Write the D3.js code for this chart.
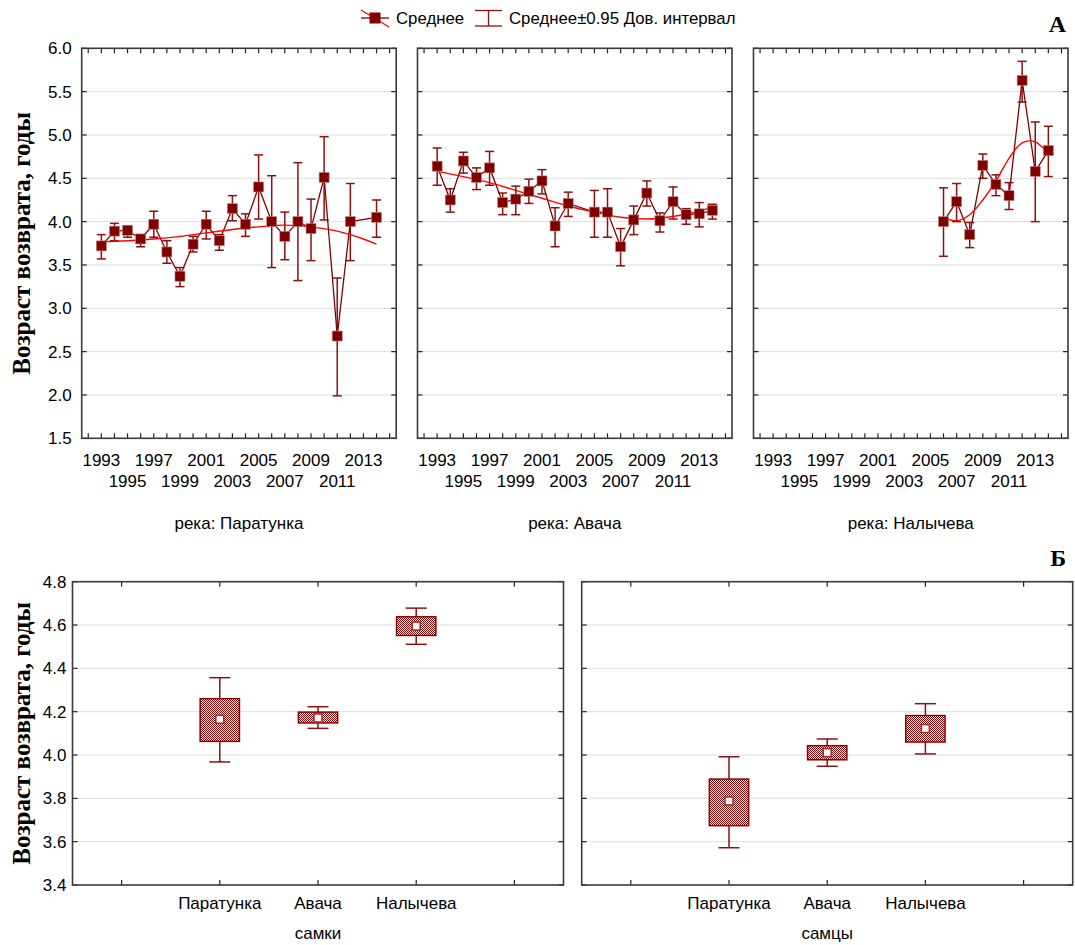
<!DOCTYPE html>
<html>
<head>
<meta charset="utf-8">
<script src="https://cdn.jsdelivr.net/npm/d3@7"></script>
<style>
  body { margin: 0; background: #fff; }
  svg { display: block; }
  text { font-family: "Liberation Sans", Arial, sans-serif; fill: #000; }
</style>
</head>
<body>
<svg id="chart" width="1075" height="945"></svg>
<script>
// ---- Panel A: mean return age by year, per river ----
const paratunkaYears = [1993,1994,1995,1996,1997,1998,1999,2000,2001,2002,2003,2004,2005,2006,2007,2008,2009,2010,2011,2012,2014];
const paratunkaMean  = [3.72,3.89,3.90,3.80,3.97,3.65,3.37,3.74,3.97,3.78,4.15,3.97,4.40,4.00,3.83,4.00,3.92,4.51,2.68,4.00,4.05];
const paratunkaLow   = [3.57,3.78,3.82,3.71,3.82,3.52,3.25,3.65,3.80,3.67,4.01,3.83,4.03,3.47,3.56,3.32,3.55,4.02,1.99,3.55,3.82];
const paratunkaHigh  = [3.85,3.98,3.95,3.85,4.12,3.78,3.47,3.83,4.12,3.85,4.30,4.09,4.77,4.53,4.11,4.68,4.26,4.98,3.35,4.44,4.25];
const paratunkaFitYears = [1993,1995,1997,1999,2001,2003,2005,2007,2009,2011,2013,2014];
const paratunkaFit      = [3.77,3.78,3.80,3.83,3.87,3.91,3.94,3.96,3.94,3.89,3.80,3.74];

const avachaYears = [1993,1994,1995,1996,1997,1998,1999,2000,2001,2002,2003,2005,2006,2007,2008,2009,2010,2011,2012,2013,2014];
const avachaMean  = [4.64,4.25,4.70,4.51,4.62,4.22,4.26,4.35,4.47,3.95,4.21,4.11,4.11,3.71,4.02,4.33,4.01,4.23,4.08,4.09,4.13];
const avachaLow   = [4.42,4.11,4.56,4.37,4.42,4.08,4.08,4.21,4.32,3.71,4.06,3.82,3.82,3.49,3.85,4.18,3.88,4.03,3.97,3.94,4.03];
const avachaHigh  = [4.85,4.38,4.80,4.62,4.81,4.33,4.41,4.49,4.60,4.16,4.34,4.36,4.38,3.92,4.18,4.47,4.10,4.40,4.15,4.22,4.20];
const avachaFitYears = [1993,1995,1997,1999,2001,2003,2005,2007,2009,2011,2013,2014];
const avachaFit      = [4.58,4.52,4.45,4.36,4.27,4.18,4.11,4.05,4.03,4.06,4.12,4.17];

const nalychevaYears = [2006,2007,2008,2009,2010,2011,2012,2013,2014];
const nalychevaMean  = [4.00,4.23,3.85,4.65,4.43,4.30,5.63,4.58,4.82];
const nalychevaLow   = [3.60,4.00,3.70,4.50,4.30,4.14,5.38,4.00,4.52];
const nalychevaHigh  = [4.39,4.44,3.99,4.78,4.54,4.45,5.85,5.15,5.10];
const nalychevaFitYears = [2006,2007,2008,2009,2010,2011,2012,2013,2014];
const nalychevaFit      = [4.05,4.01,4.08,4.25,4.47,4.73,4.91,4.92,4.78];

const riverNames = ["река: Паратунка", "река: Авача", "река: Налычева"];
const yearTicks = d3.range(1992, 2016);
const yearLabelsTop = [1993,1997,2001,2005,2009,2013];
const yearLabelsBottom = [1995,1999,2003,2007,2011];
const ageTicksA = [1.5,2.0,2.5,3.0,3.5,4.0,4.5,5.0,5.5,6.0];

// ---- Panel Б: mean ± SE (box) and ±1.96 SE (whiskers) by sex ----
const rivers = ["Паратунка", "Авача", "Налычева"];
const sexNames = ["самки", "самцы"];
const femaleMean = [4.165, 4.171, 4.595];
const femaleBoxLow = [4.063, 4.148, 4.552];
const femaleBoxHigh = [4.260, 4.198, 4.638];
const femaleCiLow = [3.968, 4.123, 4.511];
const femaleCiHigh = [4.357, 4.223, 4.678];
const maleMean = [3.788, 4.011, 4.122];
const maleBoxLow = [3.674, 3.978, 4.060];
const maleBoxHigh = [3.889, 4.043, 4.182];
const maleCiLow = [3.572, 3.948, 4.005];
const maleCiHigh = [3.992, 4.074, 4.237];
const ageTicksB = [3.4,3.6,3.8,4.0,4.2,4.4,4.6,4.8];

const yTitle = "Возраст возврата, годы";
const legendMean = "Среднее";
const legendCi = "Среднее±0.95 Дов. интервал";

// ---- styling ----
const DARK = "#800000";
const BAR = "#8b1010";
const FIT = "#ff0000";
const FRAME = "#3a3a3a";
const GRID = "#bdbdbd";
const TICK_FONT = "17px";

const svg = d3.select("#chart");

const defs = svg.append("defs");
const pat = defs.append("pattern")
  .attr("id", "dots").attr("width", 2).attr("height", 2)
  .attr("patternUnits", "userSpaceOnUse");
pat.append("rect").attr("width", 2).attr("height", 2).attr("fill", "#fff");
pat.append("rect").attr("x", 0).attr("y", 0).attr("width", 1).attr("height", 1).attr("fill", "#8b0000");
pat.append("rect").attr("x", 1).attr("y", 1).attr("width", 1).attr("height", 1).attr("fill", "#8b0000");

// frame with inward ticks on all sides and dotted grid
function drawFrame(g, x0, x1, y, yTicks, xTickPositions) {
  const yTop = y.range()[1], yBot = y.range()[0];
  g.append("g").selectAll("line").data(yTicks.slice(1, -1)).join("line")
    .attr("x1", x0).attr("x2", x1)
    .attr("y1", d => y(d)).attr("y2", d => y(d))
    .attr("stroke", GRID).attr("stroke-width", 1).attr("stroke-dasharray", "1,1");
  const t = g.append("g").attr("stroke", "#222").attr("stroke-width", 1.2);
  yTicks.forEach(d => {
    t.append("line").attr("x1", x0).attr("x2", x0 + 5).attr("y1", y(d)).attr("y2", y(d));
    t.append("line").attr("x1", x1 - 5).attr("x2", x1).attr("y1", y(d)).attr("y2", y(d));
  });
  xTickPositions.forEach(px => {
    t.append("line").attr("x1", px).attr("x2", px).attr("y1", yTop).attr("y2", yTop + 5);
    t.append("line").attr("x1", px).attr("x2", px).attr("y1", yBot).attr("y2", yBot - 5);
  });
  g.append("rect").attr("x", x0).attr("y", yTop).attr("width", x1 - x0).attr("height", yBot - yTop)
    .attr("fill", "none").attr("stroke", FRAME).attr("stroke-width", 1.6);
}

// ---------- Panel A ----------
const yA = d3.scaleLinear().domain([1.5, 6.0]).range([438.3, 48.3]);
const panelsA = [
  { x0: 81.7, years: paratunkaYears, mean: paratunkaMean, low: paratunkaLow, high: paratunkaHigh, fy: paratunkaFitYears, fit: paratunkaFit },
  { x0: 417.5, years: avachaYears, mean: avachaMean, low: avachaLow, high: avachaHigh, fy: avachaFitYears, fit: avachaFit },
  { x0: 753.5, years: nalychevaYears, mean: nalychevaMean, low: nalychevaLow, high: nalychevaHigh, fy: nalychevaFitYears, fit: nalychevaFit }
];
const widthA = 314.5;

panelsA.forEach((p, i) => {
  const x = d3.scaleLinear().domain([1991.5, 2015.5]).range([p.x0, p.x0 + widthA]);
  const g = svg.append("g");
  drawFrame(g, p.x0, p.x0 + widthA, yA, ageTicksA, yearTicks.map(x));

  // y tick labels on the first panel only
  if (i === 0) {
    g.append("g").selectAll("text").data(ageTicksA).join("text")
      .attr("x", p.x0 - 10).attr("y", d => yA(d)).attr("dy", "0.36em")
      .attr("text-anchor", "end").style("font-size", TICK_FONT)
      .text(d => d.toFixed(1));
  }
  // staggered year labels
  g.append("g").selectAll("text").data(yearLabelsTop).join("text")
    .attr("x", d => x(d)).attr("y", 466).attr("text-anchor", "middle")
    .style("font-size", TICK_FONT).text(d => d);
  g.append("g").selectAll("text").data(yearLabelsBottom).join("text")
    .attr("x", d => x(d)).attr("y", 487).attr("text-anchor", "middle")
    .style("font-size", TICK_FONT).text(d => d);
  g.append("text").attr("x", p.x0 + widthA / 2).attr("y", 529).attr("text-anchor", "middle")
    .style("font-size", TICK_FONT).text(riverNames[i]);

  const pts = p.years.map((yr, k) => ({ yr, m: p.mean[k], lo: p.low[k], hi: p.high[k] }));

  // error bars
  const eb = g.append("g").attr("stroke", BAR).attr("stroke-width", 1.5);
  pts.forEach(d => {
    eb.append("line").attr("x1", x(d.yr)).attr("x2", x(d.yr)).attr("y1", yA(d.lo)).attr("y2", yA(d.hi));
    eb.append("line").attr("x1", x(d.yr) - 4.5).attr("x2", x(d.yr) + 4.5).attr("y1", yA(d.lo)).attr("y2", yA(d.lo));
    eb.append("line").attr("x1", x(d.yr) - 4.5).attr("x2", x(d.yr) + 4.5).attr("y1", yA(d.hi)).attr("y2", yA(d.hi));
  });

  // connecting line of means
  g.append("path").datum(pts)
    .attr("d", d3.line().x(d => x(d.yr)).y(d => yA(d.m)))
    .attr("fill", "none").attr("stroke", DARK).attr("stroke-width", 1.3);

  // smoothed fit
  const fitPts = p.fy.map((yr, k) => [x(yr), yA(p.fit[k])]);
  g.append("path").datum(fitPts)
    .attr("d", d3.line().curve(d3.curveCatmullRom.alpha(0.5)))
    .attr("fill", "none").attr("stroke", FIT).attr("stroke-width", 1.4);

  // mean markers
  g.append("g").selectAll("rect").data(pts).join("rect")
    .attr("x", d => x(d.yr) - 5).attr("y", d => yA(d.m) - 5)
    .attr("width", 10).attr("height", 10)
    .attr("fill", DARK).attr("stroke", "#c08080").attr("stroke-width", 0.6);
});

// ---------- Panel Б ----------
const yB = d3.scaleLinear().domain([3.4, 4.8]).range([885, 581.7]);
const slotKeys = [0, 1, 2, 3, 4];
const panelsB = [
  { x0: 72.5, mean: femaleMean, bl: femaleBoxLow, bh: femaleBoxHigh, cl: femaleCiLow, ch: femaleCiHigh },
  { x0: 581.7, mean: maleMean, bl: maleBoxLow, bh: maleBoxHigh, cl: maleCiLow, ch: maleCiHigh }
];
const widthB = 491;

panelsB.forEach((p, i) => {
  const x = d3.scalePoint().domain(slotKeys).range([p.x0, p.x0 + widthB]).padding(0.5);
  const g = svg.append("g");
  drawFrame(g, p.x0, p.x0 + widthB, yB, ageTicksB, slotKeys.map(x));

  if (i === 0) {
    g.append("g").selectAll("text").data(ageTicksB).join("text")
      .attr("x", p.x0 - 6).attr("y", d => yB(d)).attr("dy", "0.36em")
      .attr("text-anchor", "end").style("font-size", TICK_FONT)
      .text(d => d.toFixed(1));
  }
  g.append("g").selectAll("text").data(rivers).join("text")
    .attr("x", (d, k) => x(k + 1)).attr("y", 909).attr("text-anchor", "middle")
    .style("font-size", TICK_FONT).text(d => d);
  g.append("text").attr("x", x(2)).attr("y", 939).attr("text-anchor", "middle")
    .style("font-size", TICK_FONT).text(sexNames[i]);

  const boxW = x.step() * 0.4;
  const capW = 21;
  rivers.forEach((r, k) => {
    const cx = x(k + 1);
    const w = g.append("g").attr("stroke", BAR).attr("stroke-width", 1.5);
    w.append("line").attr("x1", cx).attr("x2", cx).attr("y1", yB(p.cl[k])).attr("y2", yB(p.ch[k]));
    w.append("line").attr("x1", cx - capW / 2).attr("x2", cx + capW / 2).attr("y1", yB(p.cl[k])).attr("y2", yB(p.cl[k]));
    w.append("line").attr("x1", cx - capW / 2).attr("x2", cx + capW / 2).attr("y1", yB(p.ch[k])).attr("y2", yB(p.ch[k]));
    g.append("rect")
      .attr("x", cx - boxW / 2).attr("y", yB(p.bh[k]))
      .attr("width", boxW).attr("height", yB(p.bl[k]) - yB(p.bh[k]))
      .attr("fill", "url(#dots)").attr("stroke", "#8b0000").attr("stroke-width", 1.5);
    g.append("rect")
      .attr("x", cx - 4).attr("y", yB(p.mean[k]) - 4)
      .attr("width", 8).attr("height", 8)
      .attr("fill", "#fff").attr("stroke", "#a03030").attr("stroke-width", 1.6);
  });
});

// ---------- y axis titles ----------
[[21, (48.3 + 438.3) / 2], [21, (581.7 + 885) / 2]].forEach(([tx, ty]) => {
  svg.append("text")
    .attr("transform", `translate(${tx},${ty}) rotate(-90)`)
    .attr("text-anchor", "middle").attr("dy", "0.35em")
    .style("font-family", "'Liberation Serif', 'Times New Roman', serif")
    .style("font-weight", "bold").style("font-size", "25px")
    .text(yTitle);
});

// ---------- panel letters ----------
[["А", 32], ["Б", 566]].forEach(([s, ty]) => {
  svg.append("text").attr("x", 1066).attr("y", ty).attr("text-anchor", "end")
    .style("font-family", "'Liberation Serif', 'Times New Roman', serif")
    .style("font-weight", "bold").style("font-size", "24px")
    .text(s);
});

// ---------- legend ----------
const lg = svg.append("g");
lg.append("line").attr("x1", 361).attr("x2", 389).attr("y1", 18).attr("y2", 18)
  .attr("stroke", DARK).attr("stroke-width", 1.3);
lg.append("line").attr("x1", 361).attr("x2", 389).attr("y1", 10).attr("y2", 27)
  .attr("stroke", FIT).attr("stroke-width", 1.2);
lg.append("rect").attr("x", 369.5).attr("y", 12.5).attr("width", 11).attr("height", 11).attr("fill", DARK);
lg.append("text").attr("x", 396).attr("y", 23.5).style("font-size", "16.8px").text(legendMean);
const eg = lg.append("g").attr("stroke", BAR).attr("stroke-width", 1.3);
eg.append("line").attr("x1", 475).attr("x2", 502).attr("y1", 10.5).attr("y2", 10.5);
eg.append("line").attr("x1", 475).attr("x2", 502).attr("y1", 26).attr("y2", 26);
eg.append("line").attr("x1", 488.5).attr("x2", 488.5).attr("y1", 10.5).attr("y2", 26);
lg.append("text").attr("x", 509).attr("y", 23.5).style("font-size", "16.8px").text(legendCi);
</script>
</body>
</html>
